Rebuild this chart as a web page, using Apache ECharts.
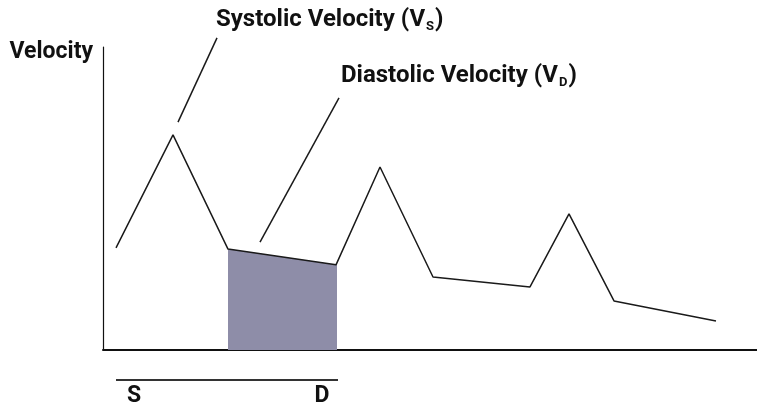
<!DOCTYPE html>
<html>
<head>
<meta charset="utf-8">
<script src="https://cdn.jsdelivr.net/npm/echarts@6/dist/echarts.min.js"></script>
<style>html,body{margin:0;padding:0;background:#fff;}#c{width:757px;height:409px;}</style>
</head>
<body>
<div id="c"></div>
<script>
// Waveform (arbitrary units: time, velocity)
const waveX = [13, 70, 125, 233, 277, 330, 427, 466, 511, 613];
const waveY = [33.7, 71.0, 33.3, 28.1, 60.4, 24.1, 20.8, 44.9, 16.2, 9.6];
// Shaded diastolic segment (between S-dip and D)
const shadeX = [125, 234];
const shadeY = [33.3, 28.1];
// Leader lines for annotations
const sysLeaderX = [114, 75];
const sysLeaderY = [103.0, 75.2];
const diaLeaderX = [236, 157];
const diaLeaderY = [83.2, 35.6];
// S–D bracket below axis
const bracketX = [13, 235];
const bracketY = [-9.9, -9.9];
// Text
const yName = 'Velocity';
const sysLabel = ['Systolic Velocity (', 'V', 'S', ')'];
const diaLabel = ['Diastolic Velocity (', 'V', 'D', ')'];
const bracketLabels = ['S', 'D'];

const FONT = 'Roboto, sans-serif';
const FS = 23;
const zip = (a, b) => a.map((v, i) => [v, b[i]]);
const rich = {
  s: { fontFamily: FONT, fontWeight: 'bold', fontSize: 24, fill: '#111' },
  sub: { fontFamily: FONT, fontWeight: 'bold', fontSize: 13, fill: '#111', padding: [13, 1, 0, 1] }
};
const lbl = (p) => '{s|' + p[0] + p[1] + '}{sub|' + p[2] + '}{s|' + p[3] + '}';

const chart = echarts.init(document.getElementById('c'));
chart.setOption({
  animation: false,
  grid: { left: 103, right: 0, top: 47, bottom: 59 },
  xAxis: {
    type: 'value', min: 0, max: 654,
    axisLine: { lineStyle: { color: '#111', width: 2 } },
    axisTick: { show: false }, axisLabel: { show: false }, splitLine: { show: false }
  },
  yAxis: {
    type: 'value', min: 0, max: 100,
    axisLine: { show: true, lineStyle: { color: '#111', width: 1.2 } },
    axisTick: { show: false }, axisLabel: { show: false }, splitLine: { show: false },
    name: yName, nameLocation: 'end', nameGap: -5,
    nameTextStyle: { fontFamily: FONT, fontWeight: 'bold', fontSize: FS, color: '#111', align: 'right', verticalAlign: 'middle', padding: [0, 10, 0, 0] }
  },
  series: [
    { type: 'line', data: zip(shadeX, shadeY), symbol: 'none', lineStyle: { width: 0 },
      areaStyle: { color: '#8e8da8', opacity: 1 }, z: 1 },
    { type: 'line', data: zip(waveX, waveY), symbol: 'none', lineStyle: { color: '#1a1a1a', width: 1.5 }, z: 3 },
    { type: 'line', data: zip(sysLeaderX, sysLeaderY), symbol: 'none', clip: false, lineStyle: { color: '#1a1a1a', width: 1.5 } },
    { type: 'line', data: zip(diaLeaderX, diaLeaderY), symbol: 'none', clip: false, lineStyle: { color: '#1a1a1a', width: 1.5 } },
    { type: 'line', data: zip(bracketX, bracketY), symbol: 'none', clip: false, lineStyle: { color: '#333', width: 2 } }
  ],
  graphic: [
    { type: 'text', x: 216, y: 20, style: { text: lbl(sysLabel), rich: rich, verticalAlign: 'middle', align: 'left' } },
    { type: 'text', x: 341, y: 76, style: { text: lbl(diaLabel), rich: rich, verticalAlign: 'middle', align: 'left' } },
    { type: 'text', x: 134, y: 396, style: { text: bracketLabels[0], font: 'bold ' + FS + 'px ' + FONT, fill: '#111', align: 'center', verticalAlign: 'middle' } },
    { type: 'text', x: 322, y: 396, style: { text: bracketLabels[1], font: 'bold ' + FS + 'px ' + FONT, fill: '#111', align: 'center', verticalAlign: 'middle' } }
  ]
});
</script>
</body>
</html>
